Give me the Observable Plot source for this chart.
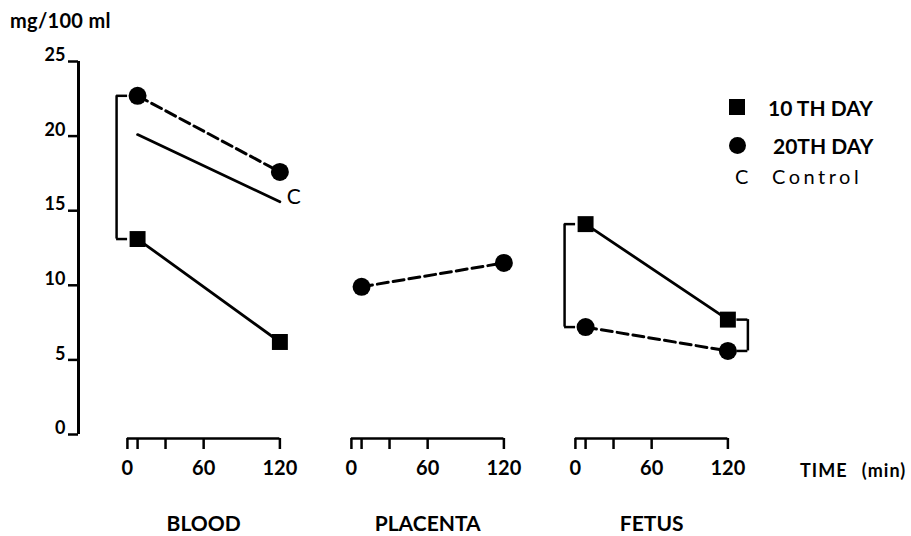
<!DOCTYPE html>
<html><head><meta charset="utf-8">
<script src="https://cdn.jsdelivr.net/npm/d3@7"></script>
<script src="https://cdn.jsdelivr.net/npm/@observablehq/plot@0.6"></script>
<style>
body{margin:0;background:#fff;}
#wrap{position:relative;width:911px;height:536px;font-family:Lato,"Open Sans",sans-serif;color:#000;}
.ov{position:absolute;white-space:nowrap;line-height:1;}
.b{font-weight:700;}
</style></head><body>
<div id="wrap"></div>
<script>
const panels = ["BLOOD", "PLACENTA", "FETUS"];
const sampleTimes = [8, 120];
const blood10 = [13.1, 6.2];
const blood20 = [22.7, 17.6];
const bloodControl = [20.1, 15.6];
const placenta20 = [9.9, 11.5];
const fetus10 = [14.1, 7.7];
const fetus20 = [7.2, 5.6];
const groups = ["10 TH DAY", "20TH DAY", "Control"];
const xTicks = [0, 8, 30, 60, 120];
const xTickLabels = [0, 60, 120];
const yTicks = [0, 5, 10, 15, 20, 25];
const yLabel = "mg/100 ml";
const xLabel = "TIME (min)";
const controlMark = "C";

const series = (panel, group, values) => values.map((v, i) => ({panel, group, t: sampleTimes[i], v}));
const rows = [
  ...series("BLOOD", groups[0], blood10),
  ...series("BLOOD", groups[1], blood20),
  ...series("BLOOD", groups[2], bloodControl),
  ...series("PLACENTA", groups[1], placenta20),
  ...series("FETUS", groups[0], fetus10),
  ...series("FETUS", groups[1], fetus20)
];
// brackets join the 10th-day and 20th-day values at the same sampling time
const bracketDefs = [
  {panel: "BLOOD", a: blood10, b: blood20, i: 0, side: "left"},
  {panel: "FETUS", a: fetus10, b: fetus20, i: 0, side: "left"},
  {panel: "FETUS", a: fetus10, b: fetus20, i: 1, side: "right"}
];
const brackets = bracketDefs.map(d => ({panel: d.panel, side: d.side, t: sampleTimes[d.i], lo: d.a[d.i], hi: d.b[d.i]}));
const bracketEnds = brackets.flatMap(d => [{...d, v: d.lo}, {...d, v: d.hi}]);
const L = brackets.filter(d => d.side === "left"), R = brackets.filter(d => d.side === "right");
const LE = bracketEnds.filter(d => d.side === "left"), RE = bracketEnds.filter(d => d.side === "right");

const xMin = -38.5, xMax = 137.8;
const yMax = yTicks[yTicks.length - 1];
const midT = (xTickLabels[0] + xTickLabels[xTickLabels.length - 1]) / 2;
const bold = 700;

const chart = Plot.plot({
  width: 911, height: 536,
  marginLeft: 77, marginRight: 160, marginTop: 61, marginBottom: 102,
  x: {domain: [xMin, xMax], label: null},
  y: {domain: [0, yMax], label: null},
  fx: {domain: panels, padding: 0, axis: null, label: null},
  style: {fontFamily: "Lato, 'Open Sans', sans-serif", background: "transparent", color: "black", overflow: "visible"},
  marks: [
    // y axis
    Plot.ruleX([panels[0]], {fx: d => d, x: xMin, y1: 0, y2: yMax, strokeWidth: 3}),
    Plot.axisY({ticks: yTicks, tickSize: 10, strokeWidth: 2.5, tickFormat: () => "", label: null}),
    Plot.text(yTicks, {fx: () => panels[0], x: xMin, y: d => d, text: d => String(d), textAnchor: "end", dx: -13, dy: -6, fontSize: 18, fontWeight: bold, letterSpacing: -0.5}),
    // x axes (one per panel)
    Plot.ruleY([0], {x1: xTickLabels[0], x2: xTickLabels[xTickLabels.length - 1], dy: 4, strokeWidth: 2.5}),
    Plot.axisX({ticks: xTicks, tickSize: 11, strokeWidth: 2.5, dy: 4, label: null, tickFormat: () => ""}),
    Plot.text(xTickLabels, {x: d => d, frameAnchor: "bottom", text: d => String(d), lineAnchor: "top", dy: 26, fontSize: 20, fontWeight: bold, letterSpacing: -1}),
    Plot.text(panels, {fx: d => d, x: midT, frameAnchor: "bottom", text: d => d, lineAnchor: "top", dy: 82, fontSize: 21, fontWeight: bold}),
    // brackets
    Plot.ruleX(L, {fx: "panel", x: "t", y1: "lo", y2: "hi", dx: -21, strokeWidth: 2.5}),
    Plot.ruleY(LE, {fx: "panel", y: "v", x1: "t", x2: "t", dx: -21, insetRight: -11, strokeWidth: 2.5}),
    Plot.ruleX(R, {fx: "panel", x: "t", y1: "lo", y2: "hi", dx: 20, strokeWidth: 2.5}),
    Plot.ruleY(RE, {fx: "panel", y: "v", x1: "t", x2: "t", dx: 20, insetLeft: -11, strokeWidth: 2.5}),
    // series
    Plot.line(rows.filter(d => d.group !== groups[1]), {fx: "panel", x: "t", y: "v", z: d => d.panel + d.group, stroke: "black", strokeWidth: 2.8}),
    Plot.line(rows.filter(d => d.group === groups[1]), {fx: "panel", x: "t", y: "v", z: "panel", stroke: "black", strokeWidth: 3, strokeDasharray: "11,5"}),
    Plot.dot(rows.filter(d => d.group === groups[0]), {fx: "panel", x: "t", y: "v", symbol: "square", r: 9, fill: "black"}),
    Plot.dot(rows.filter(d => d.group === groups[1]), {fx: "panel", x: "t", y: "v", symbol: "circle", r: 9, fill: "black"}),
    Plot.text(rows.filter(d => d.group === groups[2] && d.t === sampleTimes[1]), {fx: "panel", x: "t", y: "v", text: () => controlMark, dx: 14, dy: -4, fontSize: 21})
  ]
});

const wrap = document.getElementById("wrap");
wrap.appendChild(chart);
const ov = (txt, css, cls) => {
  const d = document.createElement("div");
  d.className = "ov " + (cls || "");
  d.textContent = txt;
  d.style.cssText = css;
  wrap.appendChild(d);
  return d;
};
ov(yLabel, "left:10px;top:10px;font-size:20px;letter-spacing:0.3px;", "b");
ov(xLabel, "left:800px;top:461px;font-size:18px;word-spacing:9px;letter-spacing:1px;", "b");
// legend
ov("", "left:729px;top:99px;width:16px;height:16px;background:#000;");
ov("", "left:729px;top:137px;width:17px;height:17px;background:#000;border-radius:50%;");
ov(controlMark, "left:735px;top:166px;font-size:20px;");
ov(groups[0], "left:768px;top:97px;font-size:21px;letter-spacing:0px;", "b");
ov(groups[1], "left:773px;top:135px;font-size:21px;letter-spacing:0px;", "b");
ov(groups[2], "left:772px;top:166px;font-size:20px;letter-spacing:3.5px;");
</script>
</body></html>
